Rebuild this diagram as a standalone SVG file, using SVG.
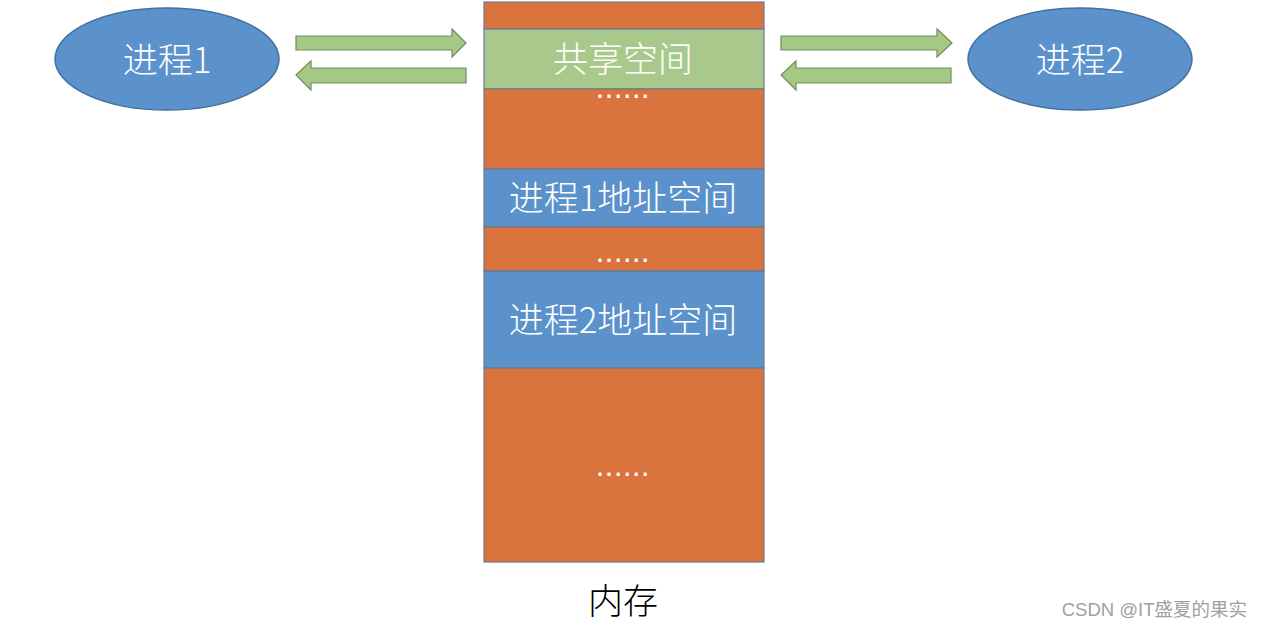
<svg xmlns="http://www.w3.org/2000/svg" width="1262" height="629" viewBox="0 0 1262 629">
<style>
.t{font-family:"Noto Sans CJK SC","Liberation Sans",sans-serif;font-weight:300;fill:#fff;text-anchor:middle;dominant-baseline:central}
.or{fill:#DA733D;stroke:#6b7a8c;stroke-width:1.2}
.gr{fill:#A8C98B;stroke:#6b7a8c;stroke-width:1.2}
.bl{fill:#5B92CC;stroke:#6b7a8c;stroke-width:1.2}
.ell{fill:#5B92CC;stroke:#41719C;stroke-width:1.5}
.arr{fill:#A6C885;stroke:#6E8F5C;stroke-width:1.2}
.dots{font-family:"DejaVu Sans",sans-serif;fill:#fff;text-anchor:middle;font-size:17px;font-weight:bold;letter-spacing:2.6px}
</style>
<rect width="1262" height="629" fill="#fff"/>
<g id="memory">
<rect class="or" x="484" y="2" width="280" height="27"/>
<rect class="gr" x="484" y="29" width="280" height="60"/>
<rect class="or" x="484" y="89" width="280" height="80"/>
<rect class="bl" x="484" y="169" width="280" height="58"/>
<rect class="or" x="484" y="227" width="280" height="44"/>
<rect class="bl" x="484" y="271" width="280" height="97"/>
<rect class="or" x="484" y="368" width="280" height="194"/>
<text class="t" x="623" y="56" font-size="35">共享空间</text>
<text class="dots" x="624" y="98">......</text>
<text class="t" x="623" y="195" font-size="35">进程1地址空间</text>
<text class="dots" x="624" y="262">......</text>
<text class="t" x="623" y="317" font-size="35">进程2地址空间</text>
<text class="dots" x="624" y="476">......</text>
<text x="623" y="598" font-family="Noto Sans CJK SC,sans-serif" font-weight="300" font-size="35" fill="#000" text-anchor="middle" dominant-baseline="central">内存</text>
</g>
<g id="process1">
<ellipse class="ell" cx="167" cy="59" rx="112" ry="51"/>
<text class="t" x="167" y="57" font-size="35">进程1</text>
</g>
<g id="process2">
<ellipse class="ell" cx="1080" cy="59" rx="112" ry="51"/>
<text class="t" x="1080" y="57" font-size="35">进程2</text>
</g>
<g id="connectors">
<polygon class="arr" points="296,36 452,36 452,29 466,43 452,57 452,50 296,50"/>
<polygon class="arr" points="466,68 311,68 311,61 296,75 311,90 311,83 466,83"/>
<polygon class="arr" points="781,36 937,36 937,29 952,43 937,57 937,50 781,50"/>
<polygon class="arr" points="951,68 796,68 796,61 781,75 796,90 796,83 951,83"/>
</g>
<text x="1247" y="616" font-family="Liberation Sans,Noto Sans CJK SC,sans-serif" font-size="18.5" fill="#a0a0a0" text-anchor="end">CSDN @IT盛夏的果实</text>
</svg>
